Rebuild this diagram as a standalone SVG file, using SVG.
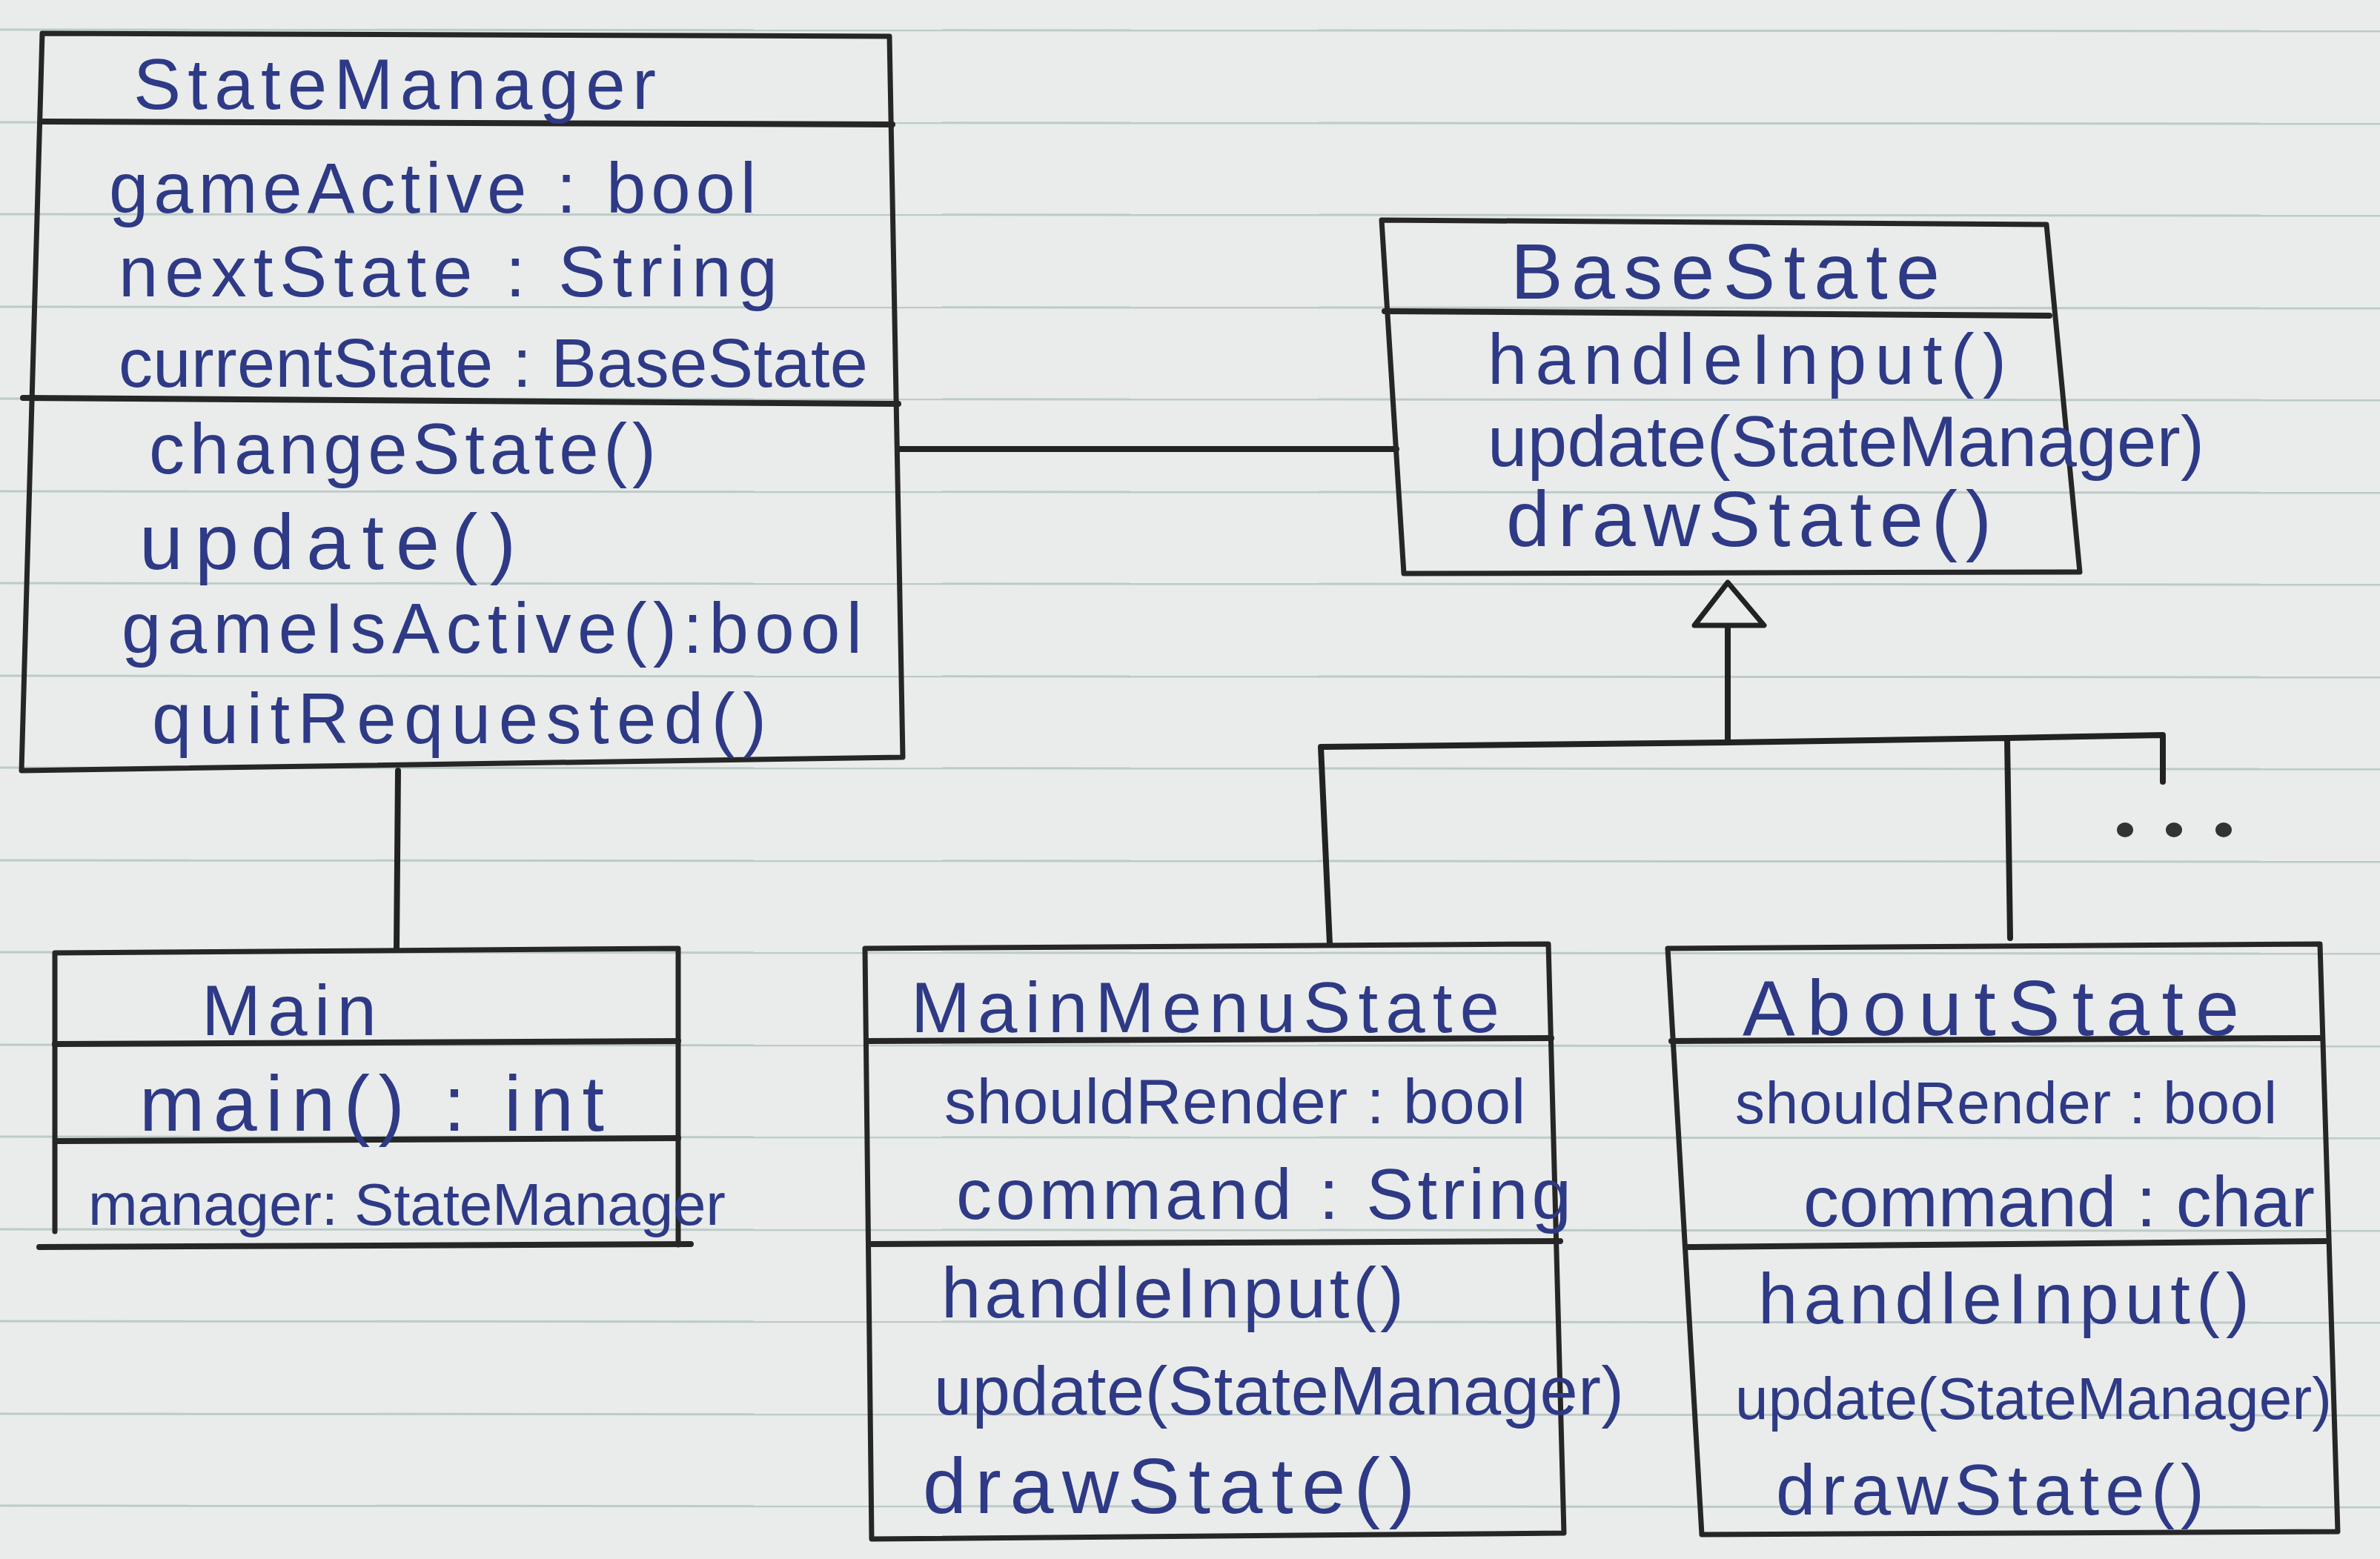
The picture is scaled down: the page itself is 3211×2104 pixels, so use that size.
<svg xmlns="http://www.w3.org/2000/svg" width="3211" height="2104" viewBox="0 0 3211 2104">
<style>
.paper{fill:#e9ecea}
.rule{stroke:#bccbc8;stroke-width:3;fill:none}
.box{fill:none;stroke:#262626;stroke-width:7;stroke-linejoin:round;stroke-linecap:round}
.div{fill:none;stroke:#262626;stroke-width:8;stroke-linecap:round}
.conn{fill:none;stroke:#222;stroke-width:8;stroke-linecap:round;stroke-linejoin:round}
.tri{fill:#e9ecea;stroke:#222;stroke-width:7;stroke-linejoin:round}
.t{font-family:"Liberation Sans",Arial,sans-serif;font-size:96px;fill:#2e3a86}
.s80{font-size:80px}
.s86{font-size:86px}
.s92{font-size:92px}
.s106{font-size:106px}
.dot{fill:#333}
</style>
<rect class="paper" x="0" y="0" width="3211" height="2104"/>
<g id="rules">
<line class="rule" x1="0" y1="40" x2="3211" y2="42"/>
<line class="rule" x1="0" y1="165" x2="3211" y2="167"/>
<line class="rule" x1="0" y1="289" x2="3211" y2="291"/>
<line class="rule" x1="0" y1="414" x2="3211" y2="416"/>
<line class="rule" x1="0" y1="538" x2="3211" y2="540"/>
<line class="rule" x1="0" y1="663" x2="3211" y2="665"/>
<line class="rule" x1="0" y1="787" x2="3211" y2="789"/>
<line class="rule" x1="0" y1="912" x2="3211" y2="914"/>
<line class="rule" x1="0" y1="1036" x2="3211" y2="1038"/>
<line class="rule" x1="0" y1="1161" x2="3211" y2="1163"/>
<line class="rule" x1="0" y1="1285" x2="3211" y2="1287"/>
<line class="rule" x1="0" y1="1410" x2="3211" y2="1412"/>
<line class="rule" x1="0" y1="1534" x2="3211" y2="1536"/>
<line class="rule" x1="0" y1="1659" x2="3211" y2="1661"/>
<line class="rule" x1="0" y1="1783" x2="3211" y2="1785"/>
<line class="rule" x1="0" y1="1908" x2="3211" y2="1910"/>
<line class="rule" x1="0" y1="2032" x2="3211" y2="2034"/>
</g>
<g id="connectors">
<line class="conn" x1="1214" y1="606" x2="1884" y2="606"/>
<line class="conn" x1="537" y1="1040" x2="535" y2="1280"/>
<polyline class="conn" points="1794,1274 1782,1008 2331,1002 2708,996 2712,1266"/>
<polyline class="conn" points="2708,996 2918,992 2918,1055"/>
<line class="conn" x1="2331" y1="1002" x2="2331" y2="844"/>
<polygon class="tri" points="2331,786 2380,844 2286,844"/>
<ellipse class="dot" cx="2867" cy="1120" rx="11" ry="10"/>
<ellipse class="dot" cx="2933" cy="1120" rx="11" ry="10"/>
<ellipse class="dot" cx="3000" cy="1120" rx="11" ry="10"/>
</g>
<g id="StateManager">
<polygon class="box" points="57,45 1200,49 1218,1022 29,1040"/>
<line class="div" x1="57" y1="164" x2="1204" y2="168"/>
<line class="div" x1="31" y1="537" x2="1212" y2="545"/>
<text class="t" x="180" y="147" textLength="705" lengthAdjust="spacing">StateManager</text>
<text class="t" x="147" y="287" textLength="873" lengthAdjust="spacing">gameActive : bool</text>
<text class="t" x="160" y="400" textLength="889" lengthAdjust="spacing">nextState : String</text>
<text class="t s92" x="160" y="522" textLength="1011" lengthAdjust="spacing">currentState : BaseState</text>
<text class="t" x="201" y="639" textLength="684" lengthAdjust="spacing">changeState()</text>
<text class="t s106" x="188" y="768" textLength="508" lengthAdjust="spacing">update()</text>
<text class="t" x="164" y="881" textLength="999" lengthAdjust="spacing">gameIsActive():bool</text>
<text class="t" x="205" y="1003" textLength="829" lengthAdjust="spacing">quitRequested()</text>
</g>
<g id="BaseState">
<polygon class="box" points="1864,297 2761,303 2806,772 1894,774"/>
<line class="div" x1="1868" y1="420" x2="2765" y2="426"/>
<text class="t s106" x="2038" y="403" textLength="579" lengthAdjust="spacing">BaseState</text>
<text class="t" x="2007" y="518" textLength="700" lengthAdjust="spacing">handleInput()</text>
<text class="t" x="2007" y="629" textLength="967" lengthAdjust="spacing">update(StateManager)</text>
<text class="t s106" x="2032" y="737" textLength="655" lengthAdjust="spacing">drawState()</text>
</g>
<g id="Main">
<polyline class="box" points="74,1662 74,1286 915,1280 915,1680"/>
<line class="div" x1="53" y1="1683" x2="932" y2="1679"/>
<line class="div" x1="74" y1="1409" x2="915" y2="1405"/>
<line class="div" x1="78" y1="1540" x2="915" y2="1536"/>
<text class="t" x="272" y="1397" textLength="236" lengthAdjust="spacing">Main</text>
<text class="t s106" x="188" y="1526" textLength="627" lengthAdjust="spacing">main() : int</text>
<text class="t s80" x="119" y="1653" textLength="860" lengthAdjust="spacing">manager: StateManager</text>
</g>
<g id="MainMenuState">
<polygon class="box" points="1167,1280 2089,1274 2110,2069 1176,2077"/>
<line class="div" x1="1171" y1="1405" x2="2093" y2="1401"/>
<line class="div" x1="1176" y1="1679" x2="2105" y2="1675"/>
<text class="t" x="1229" y="1393" textLength="794" lengthAdjust="spacing">MainMenuState</text>
<text class="t s86" x="1274" y="1516" textLength="784" lengthAdjust="spacing">shouldRender : bool</text>
<text class="t" x="1290" y="1645" textLength="830" lengthAdjust="spacing">command : String</text>
<text class="t" x="1270" y="1778" textLength="624" lengthAdjust="spacing">handleInput()</text>
<text class="t s92" x="1260" y="1909" textLength="931" lengthAdjust="spacing">update(StateManager)</text>
<text class="t s106" x="1245" y="2042" textLength="664" lengthAdjust="spacing">drawState()</text>
</g>
<g id="AboutState">
<polygon class="box" points="2250,1280 3130,1274 3154,2067 2296,2071"/>
<line class="div" x1="2255" y1="1405" x2="3130" y2="1401"/>
<line class="div" x1="2277" y1="1683" x2="3138" y2="1675"/>
<text class="t s106" x="2351" y="1397" textLength="670" lengthAdjust="spacing">AboutState</text>
<text class="t s80" x="2341" y="1516" textLength="731" lengthAdjust="spacing">shouldRender : bool</text>
<text class="t" x="2433" y="1655" textLength="690" lengthAdjust="spacing">command : char</text>
<text class="t" x="2372" y="1786" textLength="663" lengthAdjust="spacing">handleInput()</text>
<text class="t s80" x="2341" y="1915" textLength="805" lengthAdjust="spacing">update(StateManager)</text>
<text class="t" x="2396" y="2044" textLength="578" lengthAdjust="spacing">drawState()</text>
</g>
</svg>
